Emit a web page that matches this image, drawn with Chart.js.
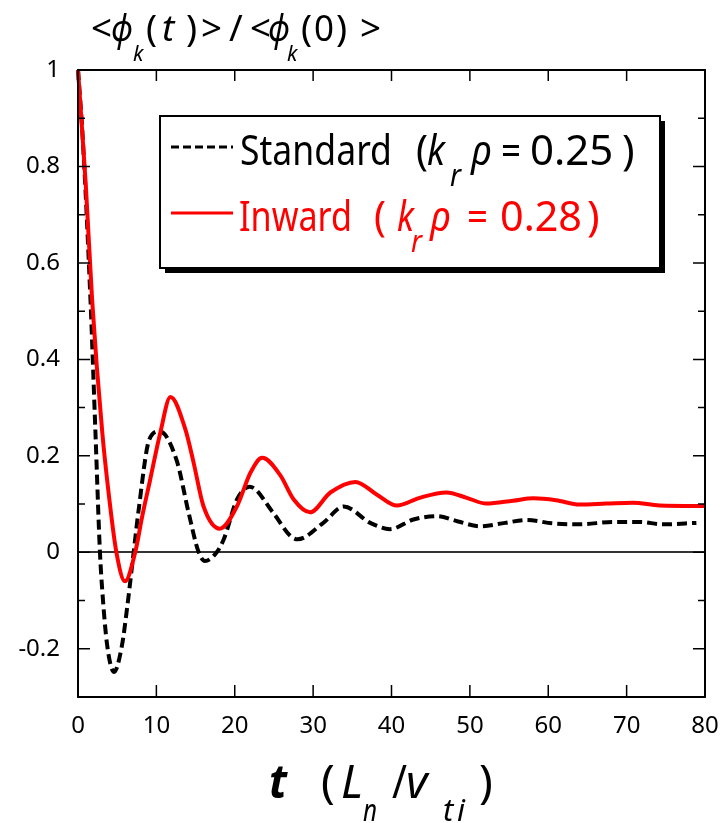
<!DOCTYPE html>
<html>
<head>
<meta charset="utf-8">
<script src="https://cdn.jsdelivr.net/npm/chart.js@4.4.1/dist/chart.umd.min.js"></script>
<style>
  body { margin: 0; background: #fff; }
  canvas { display: block; }
</style>
</head>
<body>
<canvas id="myChart" width="722" height="823"></canvas>
<script>
// zonal flow decay, Standard vs Inward
const tStandard = [0, 0.6, 1.6, 2.2, 2.8, 3.1, 3.7, 4.6, 5.6, 6.2, 7.1, 7.7, 9.1, 10.4, 12.6, 14.1, 15.4, 16.2, 17.7, 18.6, 20.3, 21.9, 24.9, 27.1, 28.0, 31.3, 33.9, 37.3, 39.8, 42.8, 45.8, 48.5, 51.3, 54.5, 57.2, 60.6, 64.0, 68.3, 71.7, 74.6, 78.9];
const phiStandard = [1.0, 0.86, 0.52, 0.26, 0.0, -0.08, -0.19, -0.248, -0.194, -0.124, 0.0, 0.083, 0.234, 0.251, 0.19, 0.083, 0.0, -0.018, 0.0, 0.027, 0.11, 0.136, 0.082, 0.034, 0.027, 0.061, 0.095, 0.061, 0.048, 0.068, 0.075, 0.064, 0.054, 0.061, 0.067, 0.06, 0.058, 0.063, 0.063, 0.058, 0.061];

const tInward = [0, 1.0, 1.8, 3.1, 4.0, 4.9, 6.0, 7.3, 8.2, 9.2, 10.5, 11.8, 13.7, 14.75, 16.0, 18.1, 20.3, 22.0, 23.5, 25.8, 27.5, 29.6, 32.2, 35.4, 38.1, 40.7, 43.6, 47.0, 49.6, 52.1, 55.5, 58.1, 61.0, 64.0, 67.4, 70.8, 74.2, 80];
const phiInward = [1.0, 0.76, 0.524, 0.248, 0.11, 0.0, -0.06, 0.0, 0.075, 0.15, 0.248, 0.322, 0.255, 0.186, 0.096, 0.049, 0.096, 0.165, 0.196, 0.16, 0.11, 0.083, 0.124, 0.146, 0.12, 0.097, 0.113, 0.124, 0.113, 0.101, 0.107, 0.112, 0.108, 0.099, 0.101, 0.103, 0.097, 0.096];

const xMin = 0, xMax = 80, xStep = 10;
const yMin = -0.3, yMax = 1, yStep = 0.1;

const FONT = '"Noto Sans", "DejaVu Sans", sans-serif';

const toPoints = (ts, vs) => ts.map((t, i) => ({ x: t, y: vs[i] }));

// text made of runs: plain, italic and subscript pieces
function drawRuns(ctx, runs, baseY, size, subSize, subDy, color) {
  ctx.save();
  ctx.fillStyle = color;
  ctx.textBaseline = 'alphabetic';
  ctx.textAlign = 'left';
  runs.forEach(r => {
    const fs = r.sub ? subSize : size;
    ctx.font = (r.it ? 'italic ' : '') + (r.b ? 'bold ' : '') + fs + 'px ' + FONT;
    ctx.fillText(r.s, r.x, baseY + (r.sub ? subDy : 0), r.w);
  });
  ctx.restore();
}

const yTitle = [
  { s: '<', x: 91, w: 21 }, { s: 'ϕ', x: 111, w: 22, it: true }, { s: 'k', x: 133, w: 15, it: true, sub: true },
  { s: '(', x: 146, w: 12 }, { s: 't', x: 162, w: 16, it: true }, { s: ')', x: 186, w: 12 },
  { s: '>', x: 201, w: 21 }, { s: '/', x: 229, w: 14 },
  { s: '<', x: 250, w: 21 }, { s: 'ϕ', x: 268, w: 22, it: true }, { s: 'k', x: 287, w: 15, it: true, sub: true },
  { s: '(', x: 301, w: 12 }, { s: '0', x: 314, w: 20 }, { s: ')', x: 336, w: 12 }, { s: '>', x: 360, w: 21 }
];

const xTitle = [
  { s: 't', x: 269, w: 18, it: true, b: true },
  { s: '(', x: 321, w: 17 }, { s: 'L', x: 341, w: 22, it: true }, { s: 'n', x: 363, w: 14, it: true, sub: true },
  { s: '/', x: 392, w: 15 }, { s: 'v', x: 406, w: 26, it: true },
  { s: 't', x: 443, w: 11, it: true, sub: true }, { s: 'i', x: 457, w: 10, it: true, sub: true },
  { s: ')', x: 479, w: 16 }
];

const legendStandard = [
  { s: 'Standard', x: 240, w: 152 }, { s: '(', x: 416, w: 12 },
  { s: 'k', x: 427, w: 18, it: true }, { s: 'r', x: 450, w: 11, it: true, sub: true },
  { s: 'ρ', x: 471, w: 21, it: true }, { s: '=', x: 501, w: 20 },
  { s: '0.25', x: 530, w: 87 }, { s: ')', x: 622, w: 13 }
];
const legendInward = [
  { s: 'Inward', x: 239, w: 113 }, { s: '(', x: 374, w: 12 },
  { s: 'k', x: 397, w: 17, it: true }, { s: 'r', x: 411, w: 11, it: true, sub: true },
  { s: 'ρ', x: 430, w: 21, it: true }, { s: '=', x: 467, w: 21 },
  { s: '0.28', x: 500, w: 82 }, { s: ')', x: 587, w: 15 }
];

const framePlugin = {
  id: 'frame',
  afterDraw(chart) {
    const ctx = chart.ctx;
    const a = chart.chartArea;
    const xs = chart.scales.x, ys = chart.scales.y;
    ctx.save();
    ctx.strokeStyle = '#000';
    ctx.lineWidth = 2;
    ctx.strokeRect(a.left, a.top, a.right - a.left, a.bottom - a.top);

    // inward ticks on all four sides
    ctx.lineWidth = 1.5;
    ctx.beginPath();
    ys.ticks.forEach(t => {
      const y = ys.getPixelForValue(t.value);
      const len = Math.round(t.value * 10) % 2 === 0 ? 12 : 7;
      ctx.moveTo(a.left, y); ctx.lineTo(a.left + len, y);
      ctx.moveTo(a.right, y); ctx.lineTo(a.right - len, y);
    });
    xs.ticks.forEach(t => {
      const x = xs.getPixelForValue(t.value);
      ctx.moveTo(x, a.bottom); ctx.lineTo(x, a.bottom - 12);
      ctx.moveTo(x, a.top); ctx.lineTo(x, a.top + 11);
    });
    ctx.stroke();

    // legend box with drop shadow
    const bx = 160, by = 116, bw = 500, bh = 152;
    ctx.fillStyle = '#000';
    ctx.fillRect(bx + 5, by + 5, bw, bh);
    ctx.fillStyle = '#fff';
    ctx.fillRect(bx, by, bw, bh);
    ctx.lineWidth = 2;
    ctx.strokeRect(bx, by, bw, bh);

    ctx.lineWidth = 3;
    ctx.setLineDash([8, 4]);
    ctx.strokeStyle = '#000';
    ctx.beginPath(); ctx.moveTo(171, 147); ctx.lineTo(233, 147); ctx.stroke();
    ctx.setLineDash([]);
    ctx.strokeStyle = '#ff0000';
    ctx.beginPath(); ctx.moveTo(171, 213); ctx.lineTo(233, 213); ctx.stroke();
    ctx.restore();

    drawRuns(ctx, legendStandard, 165, 42, 31, 21, '#000');
    drawRuns(ctx, legendInward, 231, 42, 31, 21, '#ff0000');
    drawRuns(ctx, yTitle, 41, 37, 21, 20, '#000');
    drawRuns(ctx, xTitle, 798, 46, 31, 23, '#000');
  }
};

new Chart(document.getElementById('myChart'), {
  type: 'line',
  data: {
    datasets: [
      {
        label: 'Inward',
        data: toPoints(tInward, phiInward),
        borderColor: '#ff0000',
        borderWidth: 4,
        pointRadius: 0,
        cubicInterpolationMode: 'monotone',
        clip: 4,
        order: 0
      },
      {
        label: 'Standard',
        data: toPoints(tStandard, phiStandard),
        borderColor: '#000',
        borderWidth: 4,
        borderDash: [10, 5],
        pointRadius: 0,
        cubicInterpolationMode: 'monotone',
        clip: 4,
        order: 1
      }
    ]
  },
  options: {
    responsive: false,
    animation: false,
    devicePixelRatio: 1,
    layout: { padding: { top: 70, right: 17, left: 0, bottom: 0 } },
    plugins: { legend: { display: false }, tooltip: { enabled: false } },
    scales: {
      x: {
        type: 'linear',
        min: xMin,
        max: xMax,
        afterFit: s => { s.height = 126; s.paddingLeft = 0; s.paddingRight = 0; },
        grid: { display: false, drawTicks: false },
        border: { display: true, color: '#000', width: 2 },
        ticks: {
          stepSize: xStep,
          padding: 15,
          color: '#000',
          font: { family: FONT, size: 24 },
          maxRotation: 0
        }
      },
      y: {
        type: 'linear',
        min: yMin,
        max: yMax,
        afterFit: s => { s.width = 78; s.paddingTop = 0; s.paddingBottom = 0; },
        grid: {
          drawTicks: false,
          lineWidth: 2,
          color: c => Math.abs(c.tick.value) < 1e-9 ? '#333' : 'rgba(0,0,0,0)'
        },
        border: { display: true, color: '#000', width: 2 },
        ticks: {
          stepSize: yStep,
          autoSkip: false,
          padding: 18,
          color: '#000',
          font: { family: FONT, size: 24 },
          callback: v => {
            const n = Math.round(v * 10);
            if (n % 2 !== 0) return '';
            return n === 0 ? '0' : String(n / 10);
          }
        }
      }
    }
  },
  plugins: [framePlugin]
});
</script>
</body>
</html>
